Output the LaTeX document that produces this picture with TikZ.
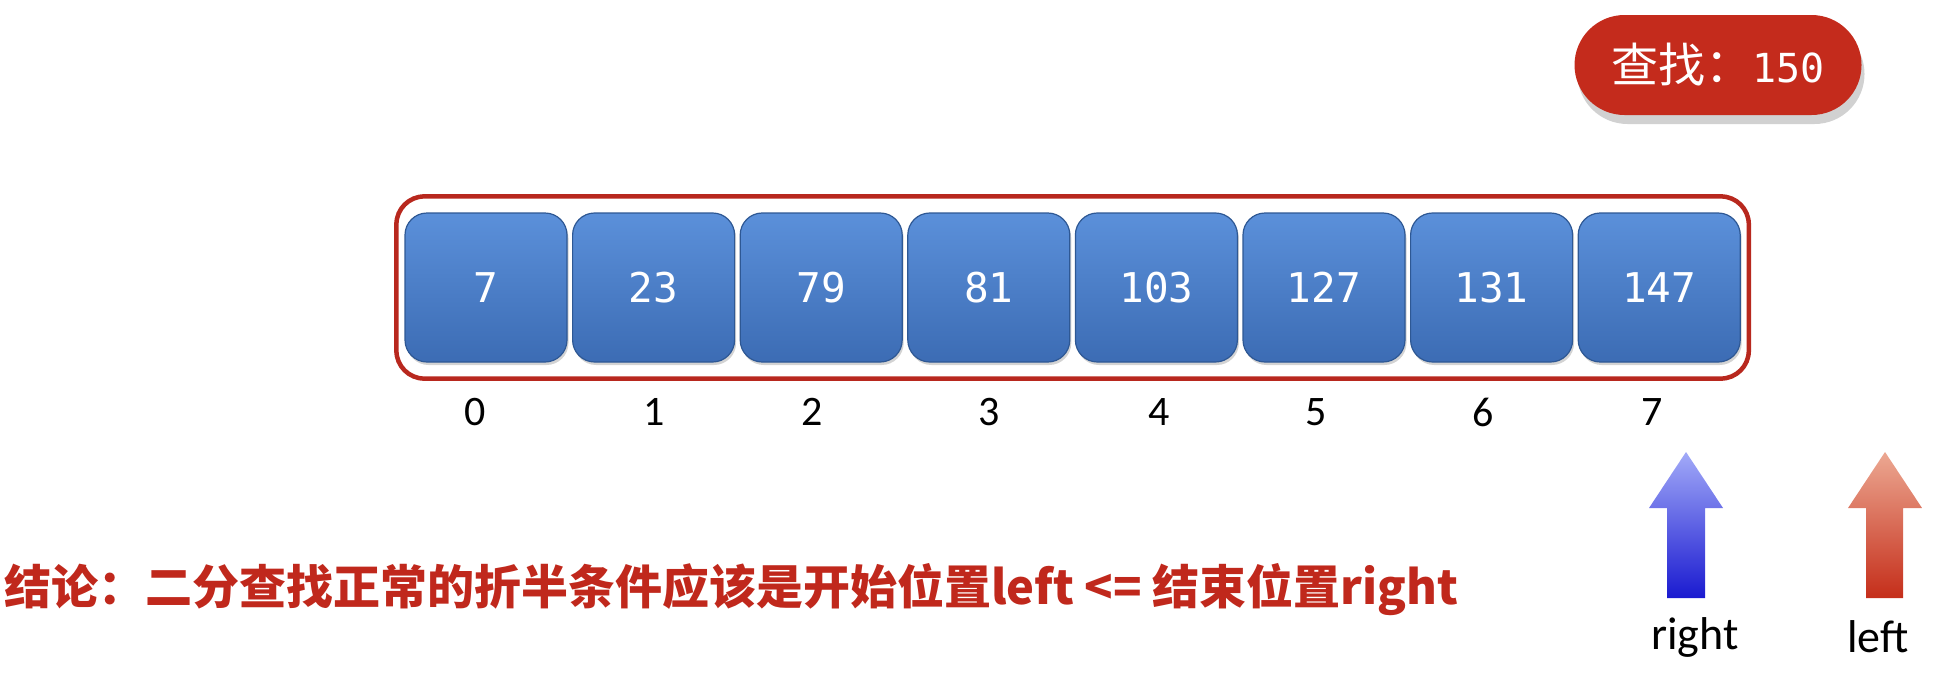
\documentclass[tikz,border=0pt]{standalone}
\usepackage{fontspec}
\setmainfont{Carlito}
\newfontfamily\cjk{Noto Sans CJK SC}
\newfontfamily\mono{DejaVu Sans Mono}
\usetikzlibrary{fit,shadows}
\definecolor{framered}{HTML}{B8281E}
\definecolor{pillred}{HTML}{C42B1C}
\definecolor{txtred}{HTML}{C0281C}
\definecolor{boxtop}{HTML}{5B90DA}
\definecolor{boxbot}{HTML}{3C6CB4}
\definecolor{boxline}{HTML}{2E5894}
\tikzset{
  cell/.style={draw=boxline, line width=1.2pt, rounded corners=22pt,
    top color=boxtop, bottom color=boxbot, minimum width=162pt, minimum height=149pt,
    text=white, font=\mono\fontsize{41}{45}\selectfont,
    drop shadow={opacity=0.35, shadow xshift=1.5pt, shadow yshift=-3pt}},
  framebox/.style={draw=framered, line width=4.5pt, rounded corners=28pt, inner xsep=8pt, inner ysep=16pt},
  pill/.style={fill=pillred, rounded corners=50pt, minimum width=287pt, minimum height=100pt, text=white,
    drop shadow={fill=black!18, opacity=1, shadow xshift=3pt, shadow yshift=-9pt}},
  idx/.style={font=\fontsize{42}{46}\selectfont, text=black},
  ptrlab/.style={font=\fontsize{46}{50}\selectfont, text=black},
}
\begin{document}
\begin{tikzpicture}[x=1pt,y=-1pt]
\useasboundingbox (0,0) rectangle (1942,680);
% cells
\foreach \v [count=\i from 0] in {7,23,79,81,103,127,131,147}{
  \node[cell] (c\i) at ({486+167.6*\i},287.5) {\v};
}
\node[framebox, fit=(c0)(c7)] (frame) {};
% indices
\foreach \x [count=\i from 0] in {475,654,812,989,1159,1316,1483,1652}{
  \node[idx] (i\i) at (\x,412) {\i};
}
% pill
\node[pill] (find) at (1718,65) {{\cjk\fontsize{47}{50}\selectfont 查找：}{\mono\fontsize{40}{44}\selectfont 150}};
% arrows
\shade[top color={rgb,255:red,162;green,170;blue,248}, bottom color={rgb,255:red,26;green,26;blue,208}]
  (1686,452) -- (1723,508) -- (1705,508) -- (1705,598) -- (1667,598) -- (1667,508) -- (1649,508) -- cycle;
\shade[top color={rgb,255:red,236;green,168;blue,146}, bottom color={rgb,255:red,197;green,46;blue,26}]
  (1885,452) -- (1922,508) -- (1903,508) -- (1903,598) -- (1866,598) -- (1866,508) -- (1848,508) -- cycle;
\node[ptrlab] (rlab) at (1695,637) {right};
\node[ptrlab] (llab) at (1878,637) {left};
% conclusion
\node[anchor=west, inner sep=0pt, text=txtred, font=\cjk\bfseries\fontsize{47}{54}\selectfont] (concl) at (4,590)
  {结论：二分查找正常的折半条件应该是开始位置left <= 结束位置right};
\end{tikzpicture}
\end{document}
